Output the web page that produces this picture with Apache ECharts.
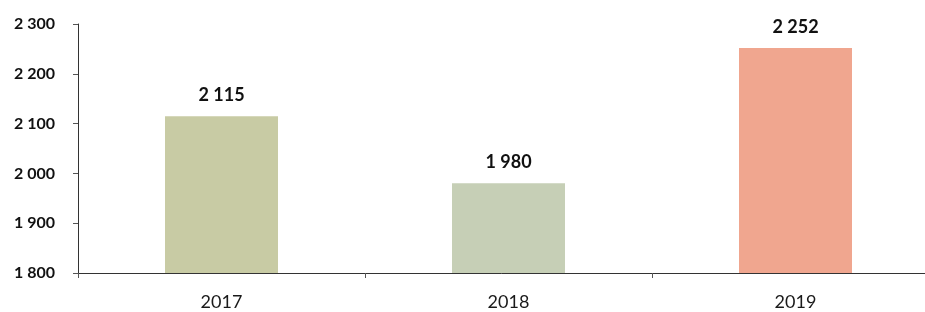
<!DOCTYPE html>
<html>
<head>
<meta charset="utf-8">
<script src="https://cdn.jsdelivr.net/npm/echarts@6/dist/echarts.min.js"></script>
<style>
  html, body { margin: 0; padding: 0; background: #fff; }
  #chart { width: 925px; height: 312px; }
</style>
</head>
<body>
<div id="chart"></div>
<script>
// data
const years = ['2017', '2018', '2019'];
const values = [2115, 1980, 2252];
const bar_colors = ['#c8cba4', '#c6cfb6', '#f0a68f'];
const y_ticks = [1800, 1900, 2000, 2100, 2200, 2300];

function fmt(v) {
    return String(v).replace(/\B(?=(\d{3})+(?!\d))/g, ' ');
}

const chart = echarts.init(document.getElementById('chart'));

chart.setOption({
    animation: false,
    grid: { left: 78, right: -14, top: 24, bottom: 39, outerBoundsMode: 'none', containLabel: false },
    xAxis: {
        type: 'category',
        data: years,
        axisLine: { lineStyle: { color: '#333', width: 1 } },
        axisTick: { show: true, length: 5, lineStyle: { color: '#555' } },
        axisLabel: {
            margin: 20,
            color: '#1a1a1a',
            fontSize: 18,
            fontFamily: 'Lato'
        }
    },
    yAxis: {
        type: 'value',
        min: y_ticks[0],
        max: y_ticks[y_ticks.length - 1],
        interval: 100,
        splitLine: { show: false },
        axisLine: { show: true, lineStyle: { color: '#333', width: 1 } },
        axisTick: { show: true, length: 5, lineStyle: { color: '#555' } },
        axisLabel: {
            margin: 23,
            color: '#111',
            fontSize: 16,
            fontWeight: 'bold',
            fontFamily: 'Lato',
            formatter: v => fmt(v)
        }
    },
    series: [{
        type: 'bar',
        barWidth: 113,
        data: values.map((v, i) => ({ value: v, itemStyle: { color: bar_colors[i] } })),
        label: {
            show: true,
            position: 'top',
            distance: 12,
            color: '#111',
            fontSize: 18,
            fontWeight: 'bold',
            fontFamily: 'Lato',
            formatter: p => fmt(p.value)
        }
    }]
});
</script>
</body>
</html>
